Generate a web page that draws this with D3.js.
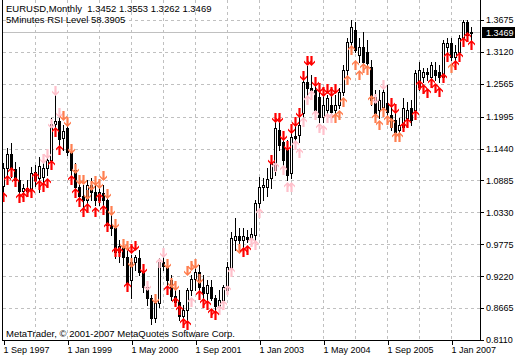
<!DOCTYPE html>
<html><head><meta charset="utf-8">
<script src="https://cdn.jsdelivr.net/npm/d3@7"></script>
<style>
body{margin:0;background:#fff}
svg{display:block}
text{font-family:"Liberation Sans",Arial,sans-serif;font-size:9px;fill:#000}
</style>
</head><body>
<svg id="c" width="520" height="360"></svg>
<script>
// ---------- DATA (EURUSD monthly, bar 0 = Sep 1997) ----------
const opens = [1.0788,1.1101,1.1345,1.1084,1.0893,1.0702,1.0754,1.0719,1.1032,1.0928,
1.0945,1.1101,1.1241,1.1867,1.1919,1.1623,1.1797,1.1380,1.1067,1.0771,
1.0615,1.0545,1.0806,1.0684,1.0545,1.0667,1.0545,1.0110,1.0058,0.9641,
0.9745,0.9554,0.9154,0.9467,0.9536,0.9293,0.9032,0.8841,0.8493,0.8754,
0.9467,0.9397,0.9154,0.8876,0.8771,0.8528,0.8632,0.8980,0.9171,0.9293,
0.9032,0.8928,0.9032,0.8841,0.8702,0.8806,0.8980,0.9363,0.9849,0.9919,
0.9849,0.9901,0.9884,0.9936,1.0493,1.0771,1.0771,1.0928,1.1067,1.1762,
1.1554,1.1414,1.1015,1.1658,1.1675,1.2058,1.2597,1.2493,1.2458,1.2336,
1.1988,1.2110,1.2197,1.2110,1.2197,1.2423,1.2806,1.3293,1.3501,1.3067,
1.3206,1.3119,1.2858,1.2336,1.2110,1.2162,1.2232,1.2023,1.1936,1.1762,
1.1815,1.1971,1.2145,1.2110,1.2510,1.2684,1.2771,1.2684,1.2806,1.2771,
1.2684,1.3206,1.3275,1.3032,1.3119,1.3362,1.3640,1.3452];
const highs = [1.1189,1.1449,1.1536,1.1206,1.1119,1.0823,1.0893,1.1119,1.1154,1.1293,
1.1241,1.1414,1.1971,1.2371,1.2075,1.1849,1.1867,1.1449,1.1189,1.0893,
1.0806,1.0893,1.0928,1.0893,1.0754,1.0806,1.0632,1.0371,1.0162,0.9849,
0.9849,0.9675,0.9589,0.9589,0.9675,0.9419,0.9102,0.8893,0.8806,0.9536,
0.9589,0.9502,0.9241,0.9102,0.8980,0.8719,0.9015,0.9241,0.9467,0.9419,
0.9241,0.9154,0.9154,0.8893,0.8980,0.9067,0.9467,0.9988,1.0232,1.0058,
1.0058,1.0023,1.0058,1.0545,1.0945,1.0928,1.1101,1.1258,1.1936,1.2023,
1.1728,1.1588,1.1762,1.1901,1.2075,1.2771,1.2875,1.2719,1.2667,1.2493,
1.2423,1.2371,1.2458,1.2371,1.2493,1.2893,1.3362,1.3675,1.3640,1.3362,
1.3467,1.3327,1.2980,1.2458,1.2458,1.2545,1.2545,1.2284,1.2110,1.1971,
1.2319,1.2249,1.2284,1.2806,1.2945,1.2840,1.2840,1.2945,1.2945,1.2893,
1.3327,1.3362,1.3362,1.3240,1.3414,1.3675,1.3675,1.3553];
const lows = [1.0684,1.0945,1.0945,1.0841,1.0580,1.0597,1.0615,1.0632,1.0788,1.0684,
1.0806,1.0980,1.1101,1.1762,1.1501,1.1414,1.1328,1.0980,1.0667,1.0458,
1.0371,1.0458,1.0545,1.0458,1.0458,1.0371,1.0023,0.9936,0.9536,0.9467,
0.9419,0.8980,0.8841,0.9328,0.9241,0.8945,0.8719,0.8389,0.8424,0.8684,
0.9328,0.9067,0.8806,0.8702,0.8458,0.8337,0.8424,0.8893,0.8980,0.8945,
0.8806,0.8806,0.8806,0.8597,0.8632,0.8719,0.8945,0.9293,0.9675,0.9710,
0.9710,0.9815,0.9815,0.9849,1.0371,1.0545,1.0615,1.0754,1.0980,1.1414,
1.1154,1.0893,1.0928,1.1501,1.1554,1.1971,1.2371,1.2319,1.2023,1.1901,
1.1901,1.1971,1.2023,1.2023,1.2145,1.2371,1.2719,1.3240,1.3119,1.2945,
1.2893,1.2840,1.2197,1.1971,1.1971,1.2075,1.2023,1.1762,1.1675,1.1710,
1.1762,1.1849,1.1849,1.1971,1.2458,1.2597,1.2632,1.2632,1.2632,1.2597,
1.2632,1.3067,1.2980,1.2945,1.3014,1.3293,1.3362,1.3262];
const closes = [1.1101,1.1345,1.1084,1.0893,1.0702,1.0754,1.0702,1.1015,1.0893,1.1136,
1.1101,1.1241,1.1867,1.1919,1.1606,1.1745,1.1380,1.1067,1.0771,1.0615,
1.0545,1.0806,1.0684,1.0545,1.0684,1.0545,1.0110,1.0058,0.9641,0.9745,
0.9554,0.9102,0.9467,0.9554,0.9293,0.9032,0.8841,0.8493,0.8754,0.9467,
0.9397,0.9154,0.8876,0.8771,0.8528,0.8632,0.8980,0.9171,0.9293,0.9032,
0.8928,0.9067,0.8841,0.8702,0.8806,0.9032,0.9380,0.9884,0.9919,0.9849,
0.9919,0.9867,0.9954,1.0493,1.0771,1.0806,1.0910,1.1189,1.1797,1.1501,
1.1241,1.0980,1.1641,1.1623,1.1849,1.2597,1.2493,1.2458,1.2110,1.1988,
1.2197,1.2319,1.2075,1.2197,1.2423,1.2806,1.3293,1.3553,1.3153,1.3206,
1.2945,1.2927,1.2284,1.2058,1.2284,1.2423,1.2075,1.1815,1.1728,1.1849,
1.2145,1.2110,1.1936,1.2754,1.2806,1.2771,1.2736,1.2893,1.2719,1.2684,
1.3275,1.3275,1.3032,1.3119,1.3362,1.3640,1.3414,1.3469];

// indicator arrows: [bar index, price of arrow tip]
const redUp = [[0,1.0684],[1,1.0980],[2,1.1119],[3,1.0945],[4,1.0667],[5,1.0684],[6,1.0771],[7,1.0754],[8,1.1032],[9,1.0893],[10,1.0858],[11,1.0928],[12,1.1241],[13,1.1815],[14,1.1501],[17,1.0980],[18,1.0754],[19,1.0597],[20,1.0423],[21,1.0493],[23,1.0423],[24,1.0667],[25,1.0458],[26,1.0162],[28,0.9728],[29,0.9728],[31,0.9119],[41,0.9067],[43,0.8858],[44,0.8719],[45,0.8493],[46,0.8458],[49,0.8980],[50,0.8841],[51,0.8806],[52,0.8667],[53,0.8632],[60,0.9728],[61,0.9762],[100,1.1901],[101,1.1971],[103,1.2110],[104,1.2632],[105,1.2562],[106,1.2493],[107,1.2667],[108,1.2580],[109,1.2510],[110,1.2754],[111,1.3119],[113,1.2980],[114,1.3119],[115,1.3380],[116,1.3467],[117,1.3327]];
const orangeUp = [[83,1.2058],[84,1.2110],[85,1.2336],[86,1.2719],[87,1.3240],[88,1.2980],[89,1.2806],[90,1.2927],[91,1.2893],[92,1.2371],[93,1.2058],[94,1.1936],[95,1.2162],[96,1.2023],[97,1.1971],[98,1.1728],[99,1.1728],[112,1.2927]];
const pinkUp = [[39,0.9536],[47,0.8858],[54,0.8719],[55,0.8806],[56,0.9067],[57,0.9380],[62,0.9901],[63,0.9849],[64,1.0406],[68,1.1206],[70,1.1154],[71,1.0858],[72,1.0858],[73,1.1588],[74,1.1449],[75,1.1988],[76,1.2371],[77,1.2458],[78,1.2110],[79,1.1884],[80,1.1849],[81,1.2058],[82,1.2058]];
const redDown = [[32,0.9623],[33,0.9675],[35,0.9276],[67,1.1171],[68,1.1901],[69,1.1901],[70,1.1588],[71,1.1414],[72,1.1710],[73,1.1832],[74,1.1988],[75,1.2632],[76,1.2893],[77,1.2893],[78,1.2527],[79,1.2423],[80,1.2354],[81,1.2406],[82,1.2354],[83,1.2406],[97,1.2162],[98,1.2058]];
const orangeDown = [[15,1.1936],[16,1.1832],[17,1.1362],[18,1.1015],[19,1.0823],[20,1.0823],[21,1.0562],[22,1.0719],[23,1.0806],[24,1.0754],[25,1.0893],[26,1.0580],[27,1.0284],[28,1.0058],[30,0.9710],[31,0.9675],[32,0.9380],[38,0.8754],[41,0.9363],[42,0.9032],[43,0.8980],[46,0.9241],[47,0.9328],[48,0.9363],[49,0.9102],[59,0.9623]];
const pinkDown = [[10,1.1189],[11,1.1276],[12,1.1797],[13,1.2371],[14,1.1988],[36,0.8980],[40,0.9554],[93,1.2232],[95,1.2475]];

const yTicks = [1.3675,1.3120,1.2565,1.1995,1.1440,1.0885,1.0330,0.9775,0.9220,0.8665,0.8110];
const xTickIdx = [0,16,32,48,64,80,96,112];
const xTickLabels = ["1 Sep 1997","1 Jan 1999","1 May 2000","1 Sep 2001","1 Jan 2003","1 May 2004","1 Sep 2005","1 Jan 2007"];
const headerLine = "EURUSD,Monthly  1.3452 1.3553 1.3262 1.3469";
const indicatorLine = "5Minutes RSI Level 58.3905";
const copyright = "MetaTrader, \u00A9 2001-2007 MetaQuotes Software Corp.";
const lastPrice = 1.3469;

// ---------- DRAW ----------
const svg = d3.select("#c");
const L = 2, R = 480, T = 0, B = 340;
const x = d3.scaleLinear().domain([0,16]).range([3,67]);
const y = d3.scaleLinear().domain([0.8110,1.3675]).range([340,20]);
const ry = v => Math.round(y(v));

svg.append("defs").append("clipPath").attr("id","clip")
  .append("rect").attr("x",L+1).attr("y",T).attr("width",R-L-1).attr("height",B-T);

const grid = svg.append("g").attr("stroke","#c0c0c0").attr("stroke-dasharray","3,3").attr("shape-rendering","crispEdges");
grid.selectAll("line.h").data(yTicks.slice(0,-1)).join("line")
  .attr("x1",L+1).attr("x2",R).attr("y1",d=>ry(d)+0.5).attr("y2",d=>ry(d)+0.5);
grid.selectAll("line.v").data(d3.range(8,118,8)).join("line")
  .attr("x1",d=>x(d)+0.5).attr("x2",d=>x(d)+0.5).attr("y1",T).attr("y2",B);

// current price line
svg.append("line").attr("x1",L+1).attr("x2",R).attr("y1",ry(lastPrice)+0.5).attr("y2",ry(lastPrice)+0.5)
  .attr("stroke","#c0c0c0").attr("shape-rendering","crispEdges");

const plot = svg.append("g").attr("clip-path","url(#clip)");
const bars = d3.range(opens.length).map(i=>({i,o:opens[i],h:highs[i],l:lows[i],c:closes[i]}));
const cg = plot.append("g").attr("shape-rendering","crispEdges");
cg.selectAll("line").data(bars).join("line")
  .attr("x1",d=>x(d.i)+0.5).attr("x2",d=>x(d.i)+0.5)
  .attr("y1",d=>ry(d.h)).attr("y2",d=>ry(d.l)+1)
  .attr("stroke","#000");
cg.selectAll("rect").data(bars).join("rect")
  .attr("x",d=>x(d.i)-0.5).attr("width",2)
  .attr("y",d=>Math.min(ry(d.o),ry(d.c))+0.5)
  .attr("height",d=>Math.max(1,Math.abs(ry(d.o)-ry(d.c))))
  .attr("fill",d=>d.c>=d.o?"#fff":"#000").attr("stroke","#000");

// arrows
const upPath = "M0,0 L3.5,3.5 L3.5,5.5 L1.1,3.1 L1.1,10 L-1.1,10 L-1.1,3.1 L-3.5,5.5 L-3.5,3.5 Z";
function arrows(data,color,dir){
  plot.append("g").selectAll("path").data(data).join("path")
    .attr("d",upPath).attr("fill",color)
    .attr("transform",d=>`translate(${x(d[0])+0.5},${ry(d[1])+(dir>0?0:1)}) scale(1,${dir})`);
}
arrows(pinkUp,"#ffc0cb",1);
arrows(pinkDown,"#ffc0cb",-1);
arrows(orangeUp,"#ff7f50",1);
arrows(orangeDown,"#ff7f50",-1);
arrows(redUp,"#ff0000",1);
arrows(redDown,"#ff0000",-1);

// frame and axes
const ax = svg.append("g").attr("stroke","#000").attr("shape-rendering","crispEdges");
ax.append("line").attr("x1",L+0.5).attr("x2",L+0.5).attr("y1",T).attr("y2",B+1);
ax.append("line").attr("x1",R+0.5).attr("x2",R+0.5).attr("y1",T).attr("y2",B+1);
ax.append("line").attr("x1",L).attr("x2",R+1).attr("y1",B+0.5).attr("y2",B+0.5);

const yAxis = d3.axisRight(y).tickValues(yTicks).tickSize(3).tickPadding(2).tickFormat(d3.format(".4f"));
const yg = svg.append("g").attr("transform",`translate(${R+1},0)`).call(yAxis);
yg.select(".domain").remove();
yg.selectAll("text").attr("font-family","Liberation Sans, Arial, sans-serif").attr("font-size",9).attr("fill","#000");
yg.selectAll("line").attr("stroke","#000").attr("shape-rendering","crispEdges");

const xAxis = d3.axisBottom(x).tickValues(xTickIdx).tickSize(4).tickFormat((d,k)=>xTickLabels[k]);
const xg = svg.append("g").attr("transform",`translate(0.5,${B+1})`).call(xAxis);
xg.select(".domain").remove();
xg.selectAll("text").attr("text-anchor","start").attr("x",-0.5).attr("dy","0.71em").attr("y",6)
  .attr("font-family","Liberation Sans, Arial, sans-serif").attr("font-size",9).attr("fill","#000");
xg.selectAll("line").attr("stroke","#000").attr("shape-rendering","crispEdges");

// current price tag
const py = ry(lastPrice);
svg.append("rect").attr("x",R+2).attr("y",py-5).attr("width",33).attr("height",11).attr("fill","#000");
svg.append("text").attr("x",R+6).attr("y",py+4).style("fill","#fff").text(d3.format(".4f")(lastPrice));

// header texts
svg.append("text").attr("x",6).attr("y",12).style("font-size","9.5px").style("white-space","pre").text(headerLine);
svg.append("text").attr("x",6).attr("y",23).style("font-size","9.5px").text(indicatorLine);
svg.append("text").attr("x",6).attr("y",337).style("font-size","9.5px").text(copyright);
</script>
</body></html>
